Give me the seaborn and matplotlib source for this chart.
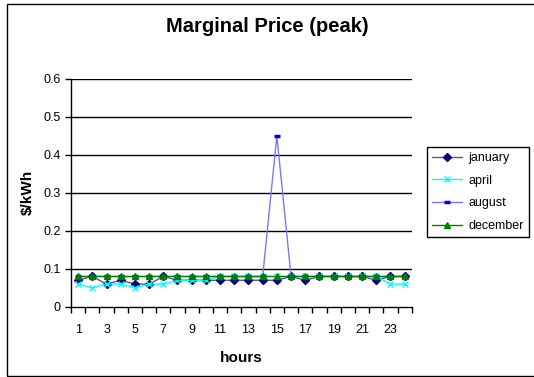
import numpy as np
import pandas as pd
import matplotlib.pyplot as plt
import seaborn as sns
from matplotlib.patches import Rectangle

hours = list(range(1, 25))
january = [0.07, 0.08, 0.06, 0.07, 0.06, 0.06, 0.08, 0.07, 0.07, 0.07, 0.07, 0.07,
           0.07, 0.07, 0.07, 0.08, 0.07, 0.08, 0.08, 0.08, 0.08, 0.07, 0.08, 0.08]
april = [0.06, 0.05, 0.06, 0.06, 0.05, 0.06, 0.06, 0.07, 0.07, 0.07, 0.08, 0.08,
         0.08, 0.08, 0.08, 0.08, 0.08, 0.08, 0.08, 0.08, 0.08, 0.08, 0.06, 0.06]
august = [0.08] * 14 + [0.45] + [0.08] * 9
december = [0.08] * 24

sns.set_style('white')
plt.rcParams['font.family'] = ['Liberation Sans', 'DejaVu Sans']
plt.rcParams['text.color'] = 'black'
plt.rcParams['axes.labelcolor'] = 'black'
plt.rcParams['xtick.color'] = 'black'
plt.rcParams['ytick.color'] = 'black'

fig = plt.figure(figsize=(5.34, 3.77), dpi=100)
ax = fig.add_axes([0.133, 0.186, 0.638, 0.605])

styles = [
    ('january', january, '#5555aa', 'D', '#000080', 4, 1.0),
    ('april', april, '#00ffff', 'x', '#00ffff', 5, 1.0),
    ('august', august, '#7777ff', '_', '#0000ff', 5, 2.5),
    ('december', december, '#008000', '^', '#008000', 5, 1.0),
]
for name, vals, lc, mk, mc, ms, mew in styles:
    sns.lineplot(x=hours, y=vals, ax=ax, color=lc, linewidth=1.0, marker=mk,
                 markersize=ms, markerfacecolor=mc, markeredgecolor=mc,
                 markeredgewidth=mew, label=name)

ax.set_xlim(0.5, 24.5)
ax.set_ylim(0, 0.6)
ax.set_yticks(np.arange(0, 0.61, 0.1))
ax.set_yticklabels(['0', '0.1', '0.2', '0.3', '0.4', '0.5', '0.6'], fontsize=9)
ax.set_xticks(range(1, 25, 2))
ax.set_xticklabels([str(h) for h in range(1, 25, 2)], fontsize=9)
ax.set_xticks(np.arange(0.5, 25, 1), minor=True)
ax.tick_params(axis='x', which='major', length=0, pad=12, bottom=True)
ax.tick_params(axis='x', which='minor', length=4, width=1, direction='out',
               color='black', bottom=True)
ax.tick_params(axis='y', length=4, width=1, direction='out', color='black', left=True)
for y in np.arange(0.1, 0.61, 0.1):
    ax.axhline(y, color='black', linewidth=1, zorder=0)
for s in ['top', 'right']:
    ax.spines[s].set_visible(False)
for s in ['left', 'bottom']:
    ax.spines[s].set_color('black')
    ax.spines[s].set_linewidth(1)

ax.set_xlabel('hours', fontsize=11, fontweight='bold', labelpad=11)
ax.set_ylabel('$/kWh', fontsize=11, fontweight='bold', labelpad=6)
fig.suptitle('Marginal Price (peak)', fontsize=14.5, fontweight='bold', x=0.5, y=0.955)

leg = ax.legend(loc='upper left', bbox_to_anchor=(0.8, 0.61), bbox_transform=fig.transFigure,
                fancybox=False, edgecolor='black', fontsize=9, borderaxespad=0,
                handlelength=2.4, handletextpad=0.5, framealpha=1, labelspacing=0.85)
leg.get_frame().set_linewidth(1)

fig.patches.append(Rectangle((0.013, 0.003), 1.2, 0.986, transform=fig.transFigure,
                             fill=False, edgecolor='black', linewidth=1))

fig.savefig('out.png', dpi=100)
